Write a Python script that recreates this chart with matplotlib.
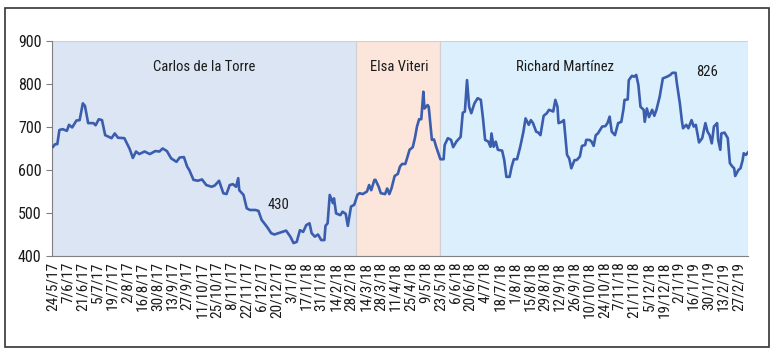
"""EMBI Ecuador por ministro de Finanzas (mayo 2017 - marzo 2019)."""
import matplotlib
matplotlib.use("Agg")
import matplotlib.pyplot as plt
import pandas as pd
from matplotlib.patches import Rectangle

plt.rcParams["font.family"] = ["Roboto Condensed", "Asap Condensed", "Archivo Narrow",
                               "Liberation Sans Narrow", "DejaVu Sans"]

AZUL = "#3A5DAE"

FECHAS = [
    "2017-05-24", "2017-05-26", "2017-05-28", "2017-05-30", "2017-06-02", "2017-06-06", "2017-06-08",
    "2017-06-11", "2017-06-15", "2017-06-18", "2017-06-21", "2017-06-23", "2017-06-26", "2017-07-01",
    "2017-07-03", "2017-07-06", "2017-07-09", "2017-07-12", "2017-07-18", "2017-07-21", "2017-07-24",
    "2017-07-30", "2017-08-04", "2017-08-07", "2017-08-10", "2017-08-13", "2017-08-18", "2017-08-23",
    "2017-08-28", "2017-09-01", "2017-09-04", "2017-09-08", "2017-09-12", "2017-09-17", "2017-09-20",
    "2017-09-24", "2017-09-27", "2017-09-29", "2017-10-03", "2017-10-07", "2017-10-11", "2017-10-15",
    "2017-10-20", "2017-10-23", "2017-10-27", "2017-10-31", "2017-11-03", "2017-11-06", "2017-11-09",
    "2017-11-12", "2017-11-14", "2017-11-15", "2017-11-19", "2017-11-22", "2017-11-25", "2017-11-30",
    "2017-12-03", "2017-12-06", "2017-12-11", "2017-12-15", "2017-12-18", "2017-12-23", "2017-12-29",
    "2018-01-02", "2018-01-05", "2018-01-08", "2018-01-11", "2018-01-14", "2018-01-17", "2018-01-20",
    "2018-01-22", "2018-01-25", "2018-01-28", "2018-01-31", "2018-02-03", "2018-02-04", "2018-02-06",
    "2018-02-08", "2018-02-11", "2018-02-12", "2018-02-14", "2018-02-18", "2018-02-20", "2018-02-23",
    "2018-02-25", "2018-02-28", "2018-03-03", "2018-03-06", "2018-03-08", "2018-03-11", "2018-03-15",
    "2018-03-17", "2018-03-19", "2018-03-22", "2018-03-23", "2018-03-26", "2018-03-28", "2018-04-01",
    "2018-04-03", "2018-04-05", "2018-04-07", "2018-04-10", "2018-04-13", "2018-04-15", "2018-04-17",
    "2018-04-20", "2018-04-22", "2018-04-24", "2018-04-27", "2018-04-29", "2018-05-01", "2018-05-03",
    "2018-05-05", "2018-05-07", "2018-05-08", "2018-05-11", "2018-05-12", "2018-05-15", "2018-05-17",
    "2018-05-19", "2018-05-23", "2018-05-26", "2018-05-27", "2018-05-30", "2018-06-02", "2018-06-04",
    "2018-06-07", "2018-06-11", "2018-06-13", "2018-06-15", "2018-06-17", "2018-06-19", "2018-06-21",
    "2018-06-24", "2018-06-27", "2018-06-30", "2018-07-02", "2018-07-04", "2018-07-07", "2018-07-09",
    "2018-07-10", "2018-07-12", "2018-07-14", "2018-07-16", "2018-07-20", "2018-07-22", "2018-07-24",
    "2018-07-27", "2018-07-29", "2018-07-31", "2018-08-03", "2018-08-06", "2018-08-09", "2018-08-11",
    "2018-08-14", "2018-08-16", "2018-08-18", "2018-08-21", "2018-08-23", "2018-08-25", "2018-08-28",
    "2018-08-31", "2018-09-02", "2018-09-06", "2018-09-08", "2018-09-10", "2018-09-11", "2018-09-14",
    "2018-09-16", "2018-09-19", "2018-09-21", "2018-09-23", "2018-09-26", "2018-09-28", "2018-10-01",
    "2018-10-03", "2018-10-06", "2018-10-07", "2018-10-10", "2018-10-12", "2018-10-14", "2018-10-16",
    "2018-10-18", "2018-10-22", "2018-10-25", "2018-10-27", "2018-10-29", "2018-10-31", "2018-11-03",
    "2018-11-06", "2018-11-09", "2018-11-11", "2018-11-12", "2018-11-15", "2018-11-16", "2018-11-19",
    "2018-11-21", "2018-11-23", "2018-11-25", "2018-11-27", "2018-11-30", "2018-12-01", "2018-12-03",
    "2018-12-05", "2018-12-08", "2018-12-10", "2018-12-12", "2018-12-15", "2018-12-18", "2018-12-22",
    "2018-12-25", "2018-12-27", "2018-12-30", "2018-12-31", "2019-01-03", "2019-01-05", "2019-01-06",
    "2019-01-09", "2019-01-11", "2019-01-14", "2019-01-16", "2019-01-18", "2019-01-21", "2019-01-24",
    "2019-01-27", "2019-01-29", "2019-01-31", "2019-02-02", "2019-02-04", "2019-02-07", "2019-02-08",
    "2019-02-10", "2019-02-11", "2019-02-14", "2019-02-17", "2019-02-19", "2019-02-21", "2019-02-23",
    "2019-02-24", "2019-02-27", "2019-03-01", "2019-03-03", "2019-03-04", "2019-03-06", "2019-03-08",
]

EMBI = [
    654, 660, 660, 693, 695, 691, 705,
    699, 715, 716, 755, 749, 709, 709,
    704, 718, 716, 681, 674, 685, 675,
    674, 649, 628, 643, 637, 643, 637,
    644, 643, 650, 644, 627, 619, 629,
    630, 608, 600, 577, 575, 578, 565,
    561, 564, 575, 546, 544, 565, 567,
    561, 581, 553, 542, 511, 507, 507,
    505, 484, 468, 453, 450, 454, 459,
    445, 430, 433, 460, 456, 472, 476,
    453, 445, 450, 437, 437, 470, 476,
    542, 523, 534, 499, 495, 503, 498,
    470, 515, 519, 542, 546, 544, 550,
    565, 553, 577, 577, 561, 546, 544,
    557, 544, 557, 586, 591, 608, 614,
    614, 630, 647, 653, 674, 701, 718,
    718, 782, 743, 751, 747, 670, 671,
    654, 625, 625, 658, 674, 670, 653,
    666, 677, 733, 736, 809, 747, 732,
    755, 767, 763, 720, 670, 666, 654,
    685, 654, 666, 647, 645, 623, 584,
    584, 608, 625, 625, 654, 689, 720,
    705, 716, 709, 689, 687, 681, 726,
    732, 740, 736, 763, 747, 709, 712,
    716, 635, 627, 604, 623, 623, 631,
    656, 658, 670, 670, 666, 656, 681,
    685, 701, 702, 709, 724, 689, 681,
    709, 712, 741, 763, 764, 809, 819,
    817, 821, 798, 747, 740, 712, 743,
    723, 740, 726, 740, 770, 813, 817,
    821, 826, 826, 805, 755, 712, 697,
    705, 697, 716, 701, 705, 664, 674,
    709, 689, 681, 662, 701, 709, 670,
    647, 685, 687, 674, 616, 609, 604,
    586, 600, 604, 623, 639, 635, 641,
]

# periodos de cada ministro
MINISTROS = ["Carlos de la Torre", "Elsa Viteri", "Richard Martínez"]
INICIOS = ["2017-05-23", "2018-03-05", "2018-05-23"]
FINES = ["2018-03-05", "2018-05-23", "2019-03-08"]
COLORES = ["#DCE5F4", "#FCE5DA", "#DBF0FC"]

fechas = pd.to_datetime(FECHAS)
ticks = pd.date_range("2017-05-24", "2019-02-27", freq="14D")

fig = plt.figure(figsize=(7.78, 3.53), dpi=100)
ax = fig.add_axes([0.0668, 0.2748, 0.8946, 0.6091])

for ini, fin, col in zip(INICIOS, FINES, COLORES):
    ax.axvspan(pd.Timestamp(ini), pd.Timestamp(fin), color=col, ec="#D0D0D0", lw=0.8, zorder=0)

ax.plot(fechas, EMBI, color=AZUL, lw=1.9, zorder=3)

ax.set_xlim(pd.Timestamp("2017-05-23"), pd.Timestamp("2019-03-08"))
ax.set_ylim(400, 900)
ax.set_yticks(range(400, 901, 100))
ax.set_xticks(ticks)
ax.set_xticklabels([f"{d.day}/{d.month}/{d:%y}" for d in ticks], rotation=90, fontsize=11)
ax.tick_params(axis="x", length=0, pad=4, colors="#1a1a1a")
ax.tick_params(axis="y", length=4, color="#808080", labelsize=11.5, labelcolor="#1a1a1a")

for s in ["top", "right"]:
    ax.spines[s].set_visible(False)
for s in ["left", "bottom"]:
    ax.spines[s].set_color("#808080")

txt = dict(ha="center", va="center", fontsize=10.5, color="#1a1a1a")
ax.text(pd.Timestamp("2017-10-13"), 840, MINISTROS[0], **txt)
ax.text(pd.Timestamp("2018-04-14"), 840, MINISTROS[1], **txt)
ax.text(pd.Timestamp("2018-09-17"), 840, MINISTROS[2], **txt)
ax.text(pd.Timestamp("2019-01-29"), 828, "826", **txt)
ax.text(pd.Timestamp("2017-12-22"), 519, "430", **txt)

# marco exterior
fig.patches.append(Rectangle((0.0064, 0.017), 0.982, 0.960, transform=fig.transFigure,
                             fill=False, ec="#333333", lw=1.2))

fig.savefig("out.png", dpi=100)
